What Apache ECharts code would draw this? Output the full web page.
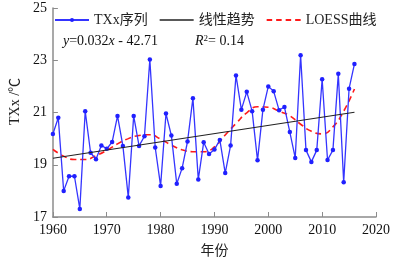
<!DOCTYPE html>
<html>
<head>
<meta charset="utf-8">
<script src="https://cdn.jsdelivr.net/npm/echarts@6/dist/echarts.min.js"></script>
<style>
  html, body { margin: 0; padding: 0; background: #fff; }
  #chart { width: 395px; height: 262px; }
</style>
</head>
<body>
<div id="chart"></div>
<script>
// 年份与TXx序列
const years = [
  1960, 1961, 1962, 1963, 1964, 1965, 1966, 1967, 1968, 1969,
  1970, 1971, 1972, 1973, 1974, 1975, 1976, 1977, 1978, 1979,
  1980, 1981, 1982, 1983, 1984, 1985, 1986, 1987, 1988, 1989,
  1990, 1991, 1992, 1993, 1994, 1995, 1996, 1997, 1998, 1999,
  2000, 2001, 2002, 2003, 2004, 2005, 2006, 2007, 2008, 2009,
  2010, 2011, 2012, 2013, 2014, 2015, 2016
]
const txx = [
  20.18, 20.80, 18.00, 18.56, 18.56, 17.31, 21.05, 19.46, 19.21, 19.74,
  19.61, 19.87, 20.87, 19.72, 17.75, 20.87, 19.72, 20.09, 23.03, 19.66,
  18.19, 20.96, 20.12, 18.27, 18.87, 19.89, 21.55, 18.44, 19.86, 19.41,
  19.58, 19.95, 18.68, 19.74, 22.42, 21.11, 21.79, 21.05, 19.17, 21.11,
  22.00, 21.81, 21.09, 21.21, 20.25, 19.26, 23.19, 19.56, 19.11, 19.56,
  22.27, 19.18, 19.56, 22.48, 18.33, 21.91, 22.86
]
// 线性趋势两端
const trendYears = [1960, 2016]
const trendValues = [19.25, 21.01]
// LOESS曲线
const loessYears = [
  1960, 1962, 1964, 1966, 1968, 1970, 1972, 1974, 1976, 1978,
  1980, 1982, 1984, 1986, 1988, 1990, 1992, 1994, 1996, 1998,
  2000, 2002, 2004, 2006, 2008, 2010, 2012, 2014, 2016
]
const loessValues = [
  19.59, 19.33, 19.20, 19.20, 19.35, 19.55, 19.80, 20.00, 20.12, 20.15,
  19.98, 19.75, 19.57, 19.50, 19.50, 19.68, 20.14, 20.58, 20.99, 21.22,
  21.20, 21.05, 20.87, 20.55, 20.28, 20.18, 20.45, 21.05, 21.90
]
const xTicks = [1960, 1970, 1980, 1990, 2000, 2010, 2020]
const yTicks = [17, 19, 21, 23, 25]

const serif = '"Liberation Serif", "Noto Sans CJK SC", serif'
const axisGray = '#8c8c8c'

const zip = (a, b) => a.map((v, i) => [v, b[i]])

// 图例图标：实线和虚线
const solidIcon = 'path://M0,0h34v1.4h-34z'
const dashIcon = 'path://M0,0h5.5v1.8h-5.5z M9.5,0h5.5v1.8h-5.5z M19,0h5.5v1.8h-5.5z M28.5,0h5.5v1.8h-5.5z'

const dom = echarts.init(document.getElementById('chart'))
const option = {
  animation: false,
  textStyle: { fontFamily: serif },
  grid: { left: 41, right: 19, top: 8, bottom: 40 },
  legend: {
    left: 49,
    top: 8,
    itemWidth: 34,
    itemHeight: 5,
    itemGap: 12,
    textStyle: { fontFamily: serif, fontSize: 14, color: '#222' },
    data: [
      { name: 'TXx序列' },
      { name: '线性趋势', icon: solidIcon },
      { name: 'LOESS曲线', icon: dashIcon }
    ]
  },
  xAxis: {
    type: 'value',
    min: xTicks[0],
    max: xTicks[xTicks.length - 1],
    interval: 10,
    name: '年份',
    nameLocation: 'middle',
    nameGap: 26,
    nameTextStyle: { fontFamily: '"Noto Sans CJK SC", serif', fontSize: 14, color: '#222' },
    axisLine: { lineStyle: { color: axisGray, width: 1.5 } },
    axisTick: { inside: true, length: 5, lineStyle: { color: axisGray } },
    axisLabel: { fontSize: 14, color: '#111', margin: 6, formatter: v => String(v) },
    splitLine: { show: false }
  },
  yAxis: {
    type: 'value',
    min: yTicks[0],
    max: yTicks[yTicks.length - 1],
    interval: 2,
    name: 'TXx /℃',
    nameLocation: 'middle',
    nameGap: 25,
    nameTextStyle: { fontFamily: serif, fontSize: 14, color: '#222', padding: [0, 0, 0, 22] },
    axisLine: { show: true, lineStyle: { color: axisGray, width: 1.5 } },
    axisTick: { show: true, inside: true, length: 5, lineStyle: { color: axisGray } },
    axisLabel: { fontSize: 14, color: '#111', margin: 6 },
    splitLine: { show: false }
  },
  graphic: [
    {
      type: 'text',
      left: 63,
      top: 34,
      style: {
        text: '{i|y}=0.032{i|x} - 42.71',
        fontFamily: serif,
        fontSize: 14,
        fill: '#111',
        rich: { i: { fontStyle: 'italic', fontFamily: serif, fontSize: 14 } }
      }
    },
    {
      type: 'text',
      left: 195,
      top: 34,
      style: {
        text: '{i|R}{s|2}= 0.14',
        fontFamily: serif,
        fontSize: 14,
        fill: '#111',
        rich: {
          i: { fontStyle: 'italic', fontFamily: serif, fontSize: 14 },
          s: { fontFamily: serif, fontSize: 9, verticalAlign: 'top', padding: [0, 0, 6, 0] }
        }
      }
    }
  ],
  series: [
    {
      name: 'TXx序列',
      type: 'line',
      data: zip(years, txx),
      symbol: 'circle',
      symbolSize: 4.5,
      itemStyle: { color: '#2020ff' },
      lineStyle: { color: '#3434ff', width: 1.3 },
      z: 3
    },
    {
      name: '线性趋势',
      type: 'line',
      data: zip(trendYears, trendValues),
      symbol: 'none',
      itemStyle: { color: '#222' },
      lineStyle: { color: '#222', width: 1.2 },
      z: 4
    },
    {
      name: 'LOESS曲线',
      type: 'line',
      data: zip(loessYears, loessValues),
      smooth: 0.5,
      symbol: 'none',
      itemStyle: { color: '#ff1a1a' },
      lineStyle: { color: '#ff1a1a', width: 1.6, type: [6, 4] },
      z: 2
    }
  ]
}
dom.setOption(option)
</script>
</body>
</html>
